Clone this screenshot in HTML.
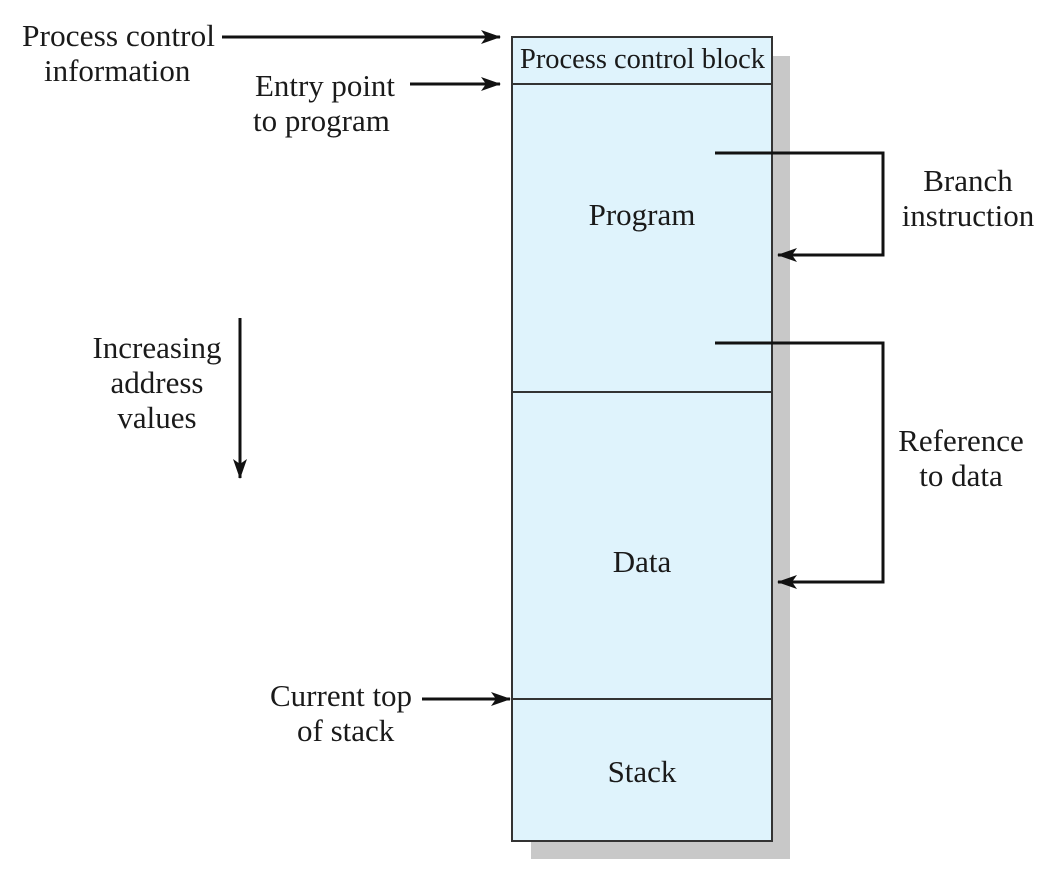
<!DOCTYPE html>
<html><head><style>
html,body{margin:0;padding:0;background:#fff;}
svg{display:block;}
text{font-family:"Liberation Serif",serif;font-size:31px;fill:#1a1a1a;}
</style></head><body>
<svg width="1052" height="874" viewBox="0 0 1052 874" xmlns="http://www.w3.org/2000/svg">
<defs>
<marker id="ah" markerWidth="20" markerHeight="14" refX="19" refY="7" orient="auto" markerUnits="userSpaceOnUse">
<path d="M0,0 L20,7 L0,14 L5,7 Z" fill="#111"/>
</marker>
</defs>
<rect x="531" y="56" width="259" height="803" fill="#c8c8c8"/>
<rect x="512" y="37" width="260" height="804" fill="#dff3fc" stroke="#333" stroke-width="2"/>
<line x1="512" y1="84" x2="772" y2="84" stroke="#333" stroke-width="2"/>
<line x1="512" y1="392" x2="772" y2="392" stroke="#333" stroke-width="2"/>
<line x1="512" y1="699" x2="772" y2="699" stroke="#333" stroke-width="2"/>
<text x="520" y="68" textLength="245" lengthAdjust="spacingAndGlyphs" style="font-size:29px">Process control block</text>
<text x="642" y="225" text-anchor="middle">Program</text>
<text x="642" y="572" text-anchor="middle">Data</text>
<text x="642" y="782" text-anchor="middle">Stack</text>

<text x="22" y="46" textLength="193" lengthAdjust="spacingAndGlyphs">Process control</text>
<text x="44" y="81">information</text>
<line x1="222" y1="37" x2="500" y2="37" stroke="#111" stroke-width="3" marker-end="url(#ah)"/>
<text x="255" y="96" textLength="140" lengthAdjust="spacingAndGlyphs">Entry point</text>
<text x="253" y="131">to program</text>
<line x1="410" y1="84" x2="500" y2="84" stroke="#111" stroke-width="3" marker-end="url(#ah)"/>
<text x="270" y="706">Current top</text>
<text x="297" y="741">of stack</text>
<line x1="422" y1="699" x2="510" y2="699" stroke="#111" stroke-width="3" marker-end="url(#ah)"/>

<text x="157" y="358" text-anchor="middle">Increasing</text>
<text x="157" y="393" text-anchor="middle">address</text>
<text x="157" y="428" text-anchor="middle">values</text>
<line x1="240" y1="318" x2="240" y2="478" stroke="#111" stroke-width="3" marker-end="url(#ah)"/>

<polyline points="715,153 883,153 883,255 778,255" fill="none" stroke="#111" stroke-width="3" marker-end="url(#ah)"/>
<text x="968" y="191" text-anchor="middle">Branch</text>
<text x="968" y="226" text-anchor="middle">instruction</text>
<polyline points="715,343 883,343 883,582 778,582" fill="none" stroke="#111" stroke-width="3" marker-end="url(#ah)"/>
<text x="961" y="451" text-anchor="middle">Reference</text>
<text x="961" y="486" text-anchor="middle">to data</text>
</svg>
</body></html>
